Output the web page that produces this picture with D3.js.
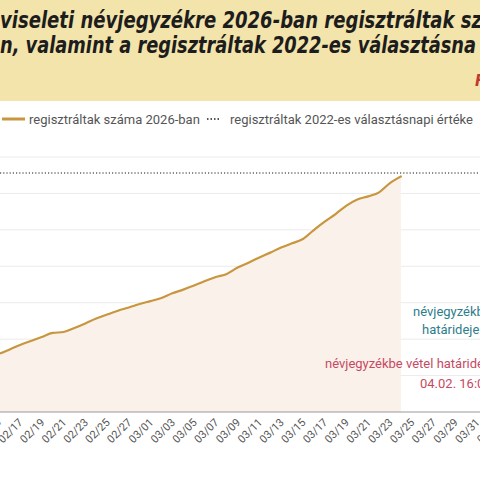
<!DOCTYPE html>
<html>
<head>
<meta charset="utf-8">
<script src="https://cdn.jsdelivr.net/npm/d3@7"></script>
<style>
  body { margin: 0; background: #fff; }
  svg { display: block; font-family: Roboto, "Noto Sans", sans-serif; }
</style>
</head>
<body>
<div class="canvas"></div>
<script>
// data (daily registrations, 2026)
const dates = [
  "2026-02-14", "2026-02-15", "2026-02-16", "2026-02-17", "2026-02-18", "2026-02-19",
  "2026-02-20", "2026-02-21", "2026-02-22", "2026-02-23", "2026-02-24", "2026-02-25",
  "2026-02-26", "2026-02-27", "2026-02-28", "2026-03-01", "2026-03-02", "2026-03-03",
  "2026-03-04", "2026-03-05", "2026-03-06", "2026-03-07", "2026-03-08", "2026-03-09",
  "2026-03-10", "2026-03-11", "2026-03-12", "2026-03-13", "2026-03-14", "2026-03-15",
  "2026-03-16", "2026-03-17", "2026-03-18", "2026-03-19", "2026-03-20", "2026-03-21",
  "2026-03-22", "2026-03-23", "2026-03-24"
];
const registered = [
  15100, 15900, 17100, 18400, 19500, 20600,
  21700, 21950, 23050, 24300, 25650, 26750,
  27800, 28700, 29650, 30450, 31300, 32600,
  33600, 34700, 35950, 37050, 37900, 39650,
  41000, 42400, 43750, 45150, 46300, 47500,
  49950, 52250, 54350, 56650, 58350, 59200,
  60300, 62850, 64650
];
const value2022 = 65600;
const yTicks = [10000, 20000, 30000, 40000, 50000, 60000, 70000];
const tickDates = [
  "2026-02-13", "2026-02-15", "2026-02-17", "2026-02-19", "2026-02-21", "2026-02-23",
  "2026-02-25", "2026-02-27", "2026-03-01", "2026-03-03", "2026-03-05", "2026-03-07",
  "2026-03-09", "2026-03-11", "2026-03-13", "2026-03-15", "2026-03-17", "2026-03-19",
  "2026-03-21", "2026-03-23", "2026-03-25", "2026-03-27", "2026-03-29", "2026-03-31",
  "2026-04-02", "2026-04-04"
];
const legendLabels = ["regisztráltak száma 2026-ban", "regisztráltak 2022-es választásnapi értéke"];

const W = 480, H = 480;
const svg = d3.select(".canvas").append("svg").attr("width", W).attr("height", H);

// header band
svg.append("rect").attr("x", 0).attr("y", 0).attr("width", W).attr("height", 101).attr("fill", "#f3e4ab");
const title = svg.append("g")
  .attr("font-family", "'DejaVu Sans Condensed', 'DejaVu Sans', sans-serif")
  .attr("font-weight", "bold").attr("font-style", "italic")
  .attr("font-size", 23).attr("fill", "#1d1d1d");
title.append("text").attr("x", 0).attr("y", 28)
  .attr("textLength", 482).attr("lengthAdjust", "spacingAndGlyphs")
  .text("viseleti névjegyzékre 2026-ban regisztráltak sz");
title.append("text").attr("x", 0).attr("y", 53)
  .attr("textLength", 476).attr("lengthAdjust", "spacingAndGlyphs")
  .text("n, valamint a regisztráltak 2022-es választásna");
svg.append("text").attr("x", 475).attr("y", 86)
  .attr("font-family", "'DejaVu Sans Condensed', sans-serif")
  .attr("font-weight", "bold").attr("font-style", "italic")
  .attr("font-size", 16).attr("fill", "#c0392b").text("Forrás");

// legend
const legend = svg.append("g").attr("font-size", 13).attr("fill", "#555");
legend.append("line").attr("x1", 2).attr("x2", 25).attr("y1", 119).attr("y2", 119)
  .attr("stroke", "#c8963e").attr("stroke-width", 3);
legend.append("text").attr("x", 29).attr("y", 123.5).text(legendLabels[0]);
legend.append("line").attr("x1", 207).attr("x2", 219).attr("y1", 119).attr("y2", 119)
  .attr("stroke", "#555").attr("stroke-width", 2).attr("stroke-dasharray", "1.5,2");
legend.append("text").attr("x", 230).attr("y", 123.5).text(legendLabels[1]);

// scales
const parse = d3.utcParse("%Y-%m-%d");
const data = dates.map((d, i) => ({ date: parse(d), v: registered[i] }));
const x = d3.scaleUtc()
  .domain([parse("2026-02-17"), parse("2026-03-31")])
  .range([20, 477]);
const y = d3.scaleLinear().domain([0, 70000]).range([412, 157]);

// gridlines
svg.append("g").selectAll("line").data(yTicks).enter().append("line")
  .attr("x1", 0).attr("x2", W)
  .attr("y1", d => y(d)).attr("y2", d => y(d))
  .attr("stroke", "#ebebeb").attr("stroke-width", 1);

// area + line
const area = d3.area().x(d => x(d.date)).y0(y(0)).y1(d => y(d.v)).curve(d3.curveMonotoneX);
const line = d3.line().x(d => x(d.date)).y(d => y(d.v)).curve(d3.curveMonotoneX);
svg.append("path").datum(data).attr("d", area).attr("fill", "#faf1ea");

// 2022 value
svg.append("line").attr("x1", 0).attr("x2", W)
  .attr("y1", y(value2022)).attr("y2", y(value2022))
  .attr("stroke", "#666").attr("stroke-width", 1.5).attr("stroke-dasharray", "1.2,2");

svg.append("path").datum(data).attr("d", line)
  .attr("fill", "none").attr("stroke", "#c8963e").attr("stroke-width", 2.2)
  .attr("stroke-linejoin", "round").attr("stroke-linecap", "round");

// x axis
const xAxisGroup = svg.append("g").attr("transform", `translate(0, ${y(0)})`);
xAxisGroup.call(d3.axisBottom(x)
  .tickValues(tickDates.map(parse))
  .tickFormat(d3.utcFormat("%m/%d"))
  .tickSize(0));
xAxisGroup.select(".domain").remove();
xAxisGroup.append("line").attr("x1", 0).attr("x2", W).attr("stroke", "#999").attr("stroke-width", 1.2);
xAxisGroup.selectAll("text")
  .attr("y", 0).attr("dy", null)
  .attr("transform", "translate(3,11) rotate(-45)")
  .attr("text-anchor", "end")
  .attr("font-family", "Roboto, sans-serif")
  .attr("font-size", 11).attr("fill", "#555");

// annotations
const notes = svg.append("g").attr("font-size", 13);
notes.append("text").attr("x", 413).attr("y", 316).attr("fill", "#2e7d8c").text("névjegyzékbe vétel");
notes.append("text").attr("x", 422).attr("y", 334).attr("fill", "#2e7d8c").text("határideje:");
notes.append("text").attr("x", 325).attr("y", 368).attr("fill", "#c64a63").text("névjegyzékbe vétel határideje:");
notes.append("text").attr("x", 420).attr("y", 388).attr("fill", "#c64a63").text("04.02. 16:00");
</script>
</body>
</html>
